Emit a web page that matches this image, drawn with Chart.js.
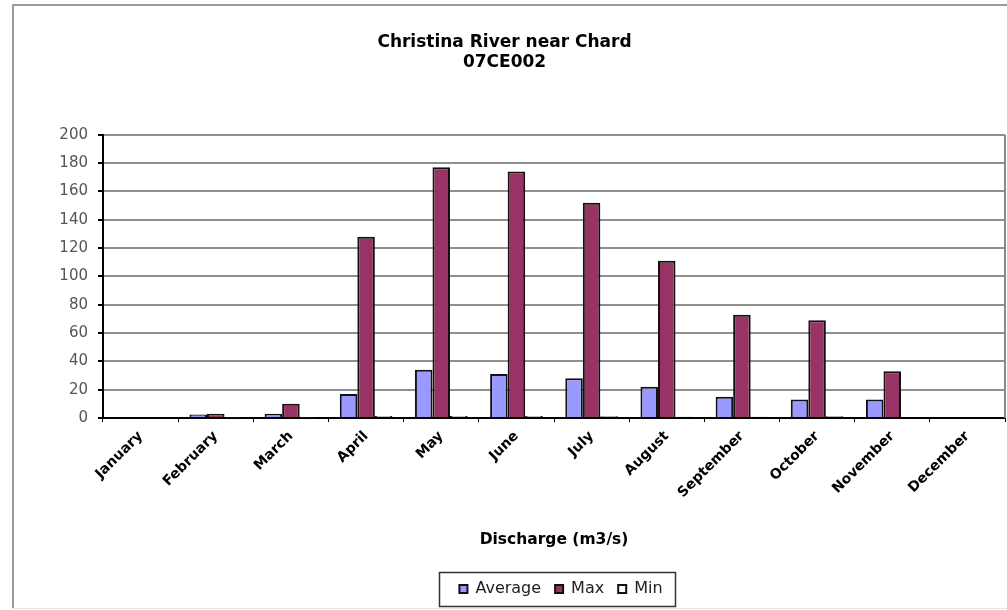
<!DOCTYPE html>
<html>
<head>
<meta charset="utf-8">
<title>Christina River near Chard - 07CE002</title>
<script src="https://cdn.jsdelivr.net/npm/chart.js@4.4.1/dist/chart.umd.min.js"></script>
<style>
  html, body { margin: 0; padding: 0; background: #ffffff; }
  #wrap { width: 1007px; height: 610px; position: relative; }
  canvas { display: block; }
</style>
</head>
<body>
<div id="wrap"><canvas id="flowChart" width="1007" height="610"></canvas></div>
<script>
// Monthly discharge statistics, Christina River near Chard (station 07CE002), m3/s
const months = ['January', 'February', 'March', 'April', 'May', 'June',
                'July', 'August', 'September', 'October', 'November', 'December'];
const averageFlow = [0, 2.5, 3, 17, 34, 31, 28, 22, 15, 13, 13, 0];
const maxFlow     = [0, 3, 10, 128, 177, 174, 152, 111, 73, 69, 33, 0];
const minFlow     = [0, 0.5, 0.5, 1.5, 1.5, 1.5, 1.2, 0.8, 0.8, 1.2, 0.6, 0];
const yMin = 0, yMax = 200, yStep = 20;
const chartTitle = ['Christina River near Chard', '07CE002'];
const axisTitle = 'Discharge (m3/s)';

const FONT = 'DejaVu Sans';

// Page frame, plot-area right edge and the box around the legend
const framePlugin = {
  id: 'frame',
  afterLayout(chart) {
    // centre the legend under the plot area, and the title on the page
    const area = chart.chartArea;
    if (chart.legend) {
      chart.legend.left = area.left + 14;
      chart.legend.right = area.right;
    }
    if (chart.titleBlock) {
      chart.titleBlock.left = 2;
      chart.titleBlock.right = 1007;
    }
  },
  beforeDraw(chart) {
    const ctx = chart.ctx;
    ctx.save();
    ctx.fillStyle = '#ffffff';
    ctx.fillRect(0, 0, chart.width, chart.height);
    ctx.strokeStyle = '#9a9a9a';
    ctx.lineWidth = 2;
    ctx.beginPath();
    ctx.moveTo(13, 608);
    ctx.lineTo(13, 5);
    ctx.lineTo(chart.width, 5);
    ctx.stroke();
    ctx.strokeStyle = '#e4e4e4';
    ctx.lineWidth = 1;
    ctx.beginPath();
    ctx.moveTo(13, 608.5);
    ctx.lineTo(chart.width, 608.5);
    ctx.stroke();
    ctx.restore();
  },
  beforeDatasetsDraw(chart) {
    const {ctx, chartArea} = chart;
    ctx.save();
    ctx.strokeStyle = '#8a8a8a';
    ctx.lineWidth = 2;
    ctx.beginPath();
    ctx.moveTo(chartArea.right, chartArea.top);
    ctx.lineTo(chartArea.right, chartArea.bottom);
    ctx.stroke();
    ctx.restore();
  },
  afterDraw(chart) {
    const legend = chart.legend;
    if (!legend || !legend.legendHitBoxes.length) return;
    const boxes = legend.legendHitBoxes;
    const first = boxes[0];
    const last = boxes[boxes.length - 1];
    const mid = first.top + first.height / 2;
    const ctx = chart.ctx;
    ctx.save();
    ctx.strokeStyle = '#333333';
    ctx.lineWidth = 1.5;
    const x0 = Math.round(first.left - 20) + 0.5;
    const x1 = Math.round(last.left + last.width + 12) + 0.5;
    const y0 = Math.round(mid - 17.5) + 0.5;
    const y1 = Math.round(mid + 17.5) - 0.5;
    ctx.strokeRect(x0, y0, x1 - x0, y1 - y0);
    ctx.restore();
  }
};

const barStyle = {
  borderColor: '#111111',
  borderWidth: 2,
  categoryPercentage: 0.7,
  barPercentage: 1.0
};

new Chart(document.getElementById('flowChart'), {
  type: 'bar',
  data: {
    labels: months,
    datasets: [
      Object.assign({ label: 'Average', data: averageFlow, backgroundColor: '#9999ff' }, barStyle),
      Object.assign({ label: 'Max', data: maxFlow, backgroundColor: '#993366' }, barStyle),
      Object.assign({ label: 'Min', data: minFlow, backgroundColor: '#ffffff' }, barStyle)
    ]
  },
  options: {
    responsive: false,
    animation: false,
    devicePixelRatio: 1,
    layout: { padding: { left: 13, right: 2, top: 0, bottom: 3 } },
    plugins: {
      title: {
        display: true,
        text: chartTitle,
        color: '#000000',
        font: { family: FONT, size: 17, weight: 'bold' },
        padding: { top: 32, bottom: 62 }
      },
      legend: {
        display: true,
        position: 'bottom',
        labels: {
          color: '#222222',
          font: { family: FONT, size: 16 },
          boxWidth: 8,
          boxHeight: 8,
          padding: 14
        }
      },
      tooltip: { enabled: false }
    },
    scales: {
      x: {
        offset: true,
        grid: {
          offset: true,
          drawOnChartArea: false,
          drawTicks: true,
          tickLength: 4,
          color: '#000000',
          tickColor: '#000000'
        },
        border: { color: '#000000', width: 2 },
        ticks: {
          color: '#000000',
          font: { family: FONT, size: 14, weight: 'bold' },
          maxRotation: 45,
          minRotation: 45,
          autoSkip: false,
          padding: 6
        },
        title: {
          display: true,
          text: axisTitle,
          color: '#000000',
          font: { family: FONT, size: 15.5, weight: 'bold' },
          padding: { top: 4, bottom: 18 }
        },
        afterFit(scale) { scale.height = 149; }
      },
      y: {
        min: yMin,
        max: yMax,
        grid: {
          color: '#8f8f8f',
          lineWidth: 2,
          drawTicks: true,
          tickLength: 5,
          tickColor: '#000000'
        },
        border: { color: '#000000', width: 2 },
        ticks: {
          stepSize: yStep,
          color: '#555555',
          font: { family: FONT, size: 15 },
          padding: 10
        },
        afterFit(scale) { scale.width = 90; }
      }
    }
  },
  plugins: [framePlugin]
});
</script>
</body>
</html>
